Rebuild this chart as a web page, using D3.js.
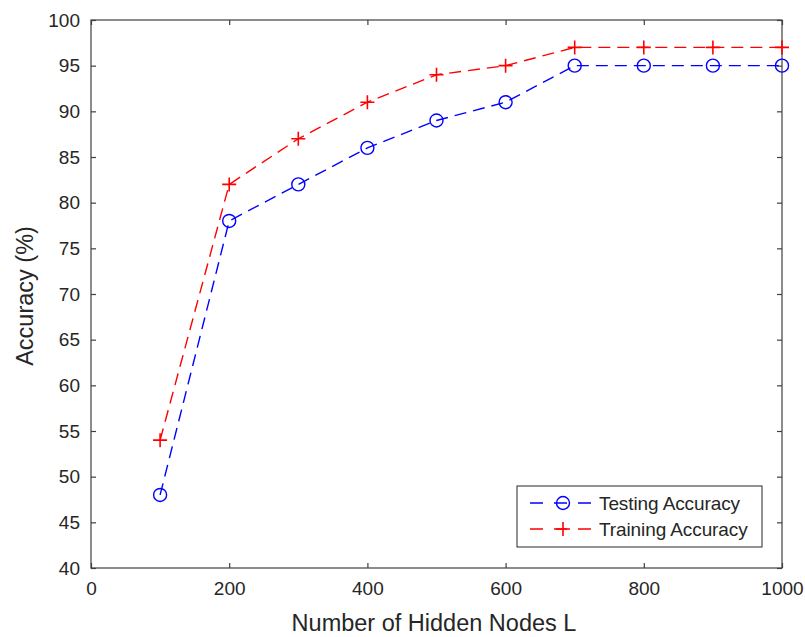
<!DOCTYPE html>
<html><head><meta charset="utf-8">
<script src="https://cdn.jsdelivr.net/npm/d3@7"></script>
<style>body{margin:0;background:#fff}text{font-family:"Liberation Sans",Arial,sans-serif;fill:#262626}</style>
</head><body><svg id="c" width="805" height="637"></svg>
<script>
const nodes = [100,200,300,400,500,600,700,800,900,1000];
const testing = [48,78,82,86,89,91,95,95,95,95];
const training = [54,82,87,91,94,95,97,97,97,97];
const xTicks = [0,200,400,600,800,1000];
const yTicks = [40,45,50,55,60,65,70,75,80,85,90,95,100];
const seriesNames = ["Testing Accuracy","Training Accuracy"];

const svg = d3.select("#c");
const L=91,R=782,T=20,B=568;
const x = d3.scaleLinear().domain([0,1000]).range([L,R]);
const y = d3.scaleLinear().domain([40,100]).range([B,T]);
const axCol="#404040", fs=19, tfs=23.5;

svg.append("rect").attr("x",L).attr("y",T).attr("width",R-L).attr("height",B-T)
  .attr("fill","none").attr("stroke",axCol).attr("stroke-width",1.2);

function styleAxis(g){
  g.select(".domain").remove();
  g.selectAll(".tick line").attr("stroke",axCol).attr("stroke-width",1.2);
  g.selectAll(".tick text").style("font-size",fs+"px").attr("fill","#262626");
}
const fmt = d3.format("d");
svg.append("g").attr("transform",`translate(0,${B})`)
  .call(d3.axisBottom(x).tickValues(xTicks).tickFormat(fmt).tickSizeInner(-5).tickSizeOuter(0).tickPadding(14))
  .call(styleAxis);
svg.append("g").attr("transform",`translate(0,${T})`)
  .call(d3.axisTop(x).tickValues(xTicks).tickSizeInner(-5).tickSizeOuter(0).tickFormat(""))
  .call(styleAxis);
svg.append("g").attr("transform",`translate(${L},0)`)
  .call(d3.axisLeft(y).tickValues(yTicks).tickFormat(fmt).tickSizeInner(-5).tickSizeOuter(0).tickPadding(11))
  .call(styleAxis);
svg.append("g").attr("transform",`translate(${R},0)`)
  .call(d3.axisRight(y).tickValues(yTicks).tickSizeInner(-5).tickSizeOuter(0).tickFormat(""))
  .call(styleAxis);

svg.append("text").attr("x",434).attr("y",631).attr("text-anchor","middle")
  .style("font-size",tfs+"px").text("Number of Hidden Nodes L");
svg.append("text").attr("transform",`translate(33,296) rotate(-90)`).attr("text-anchor","middle")
  .style("font-size",tfs+"px").text("Accuracy (%)");

const line = d3.line();
const dash="12,7";
function drawSeries(vals,color,marker){
  const pts = nodes.map((n,i)=>[x(n),y(vals[i])]);
  svg.append("path").attr("d",line(pts)).attr("fill","none").attr("stroke",color)
    .attr("stroke-width",1.4).attr("stroke-dasharray",dash);
  pts.forEach(p=>marker(p[0],p[1],color));
}
function circ(cx,cy,color){
  svg.append("circle").attr("cx",cx).attr("cy",cy).attr("r",6.5).attr("fill","none")
    .attr("stroke",color).attr("stroke-width",1.4);
}
function plus(cx,cy,color){
  svg.append("path").attr("d",`M${cx-7},${cy}H${cx+7}M${cx},${cy-7}V${cy+7}`)
    .attr("stroke",color).attr("stroke-width",1.6).attr("fill","none");
}
drawSeries(testing,"#0000ff",circ);
drawSeries(training,"#ff0000",plus);

const lg = svg.append("g");
lg.append("rect").attr("x",517).attr("y",486).attr("width",245).attr("height",61)
  .attr("fill","#fff").attr("stroke","#262626").attr("stroke-width",1);
const items=[{c:"#0000ff",m:circ},{c:"#ff0000",m:plus}];
items.forEach((it,i)=>{
  const ly = 503+i*26;
  lg.append("path").attr("d",`M530,${ly}H593`).attr("stroke",it.c).attr("stroke-width",1.4)
    .attr("stroke-dasharray","13,11");
  it.m(563,ly,it.c);
  lg.append("text").attr("x",599).attr("y",ly+7).style("font-size",fs+"px")
    .attr("letter-spacing","-0.1").text(seriesNames[i]);
});
</script></body></html>
